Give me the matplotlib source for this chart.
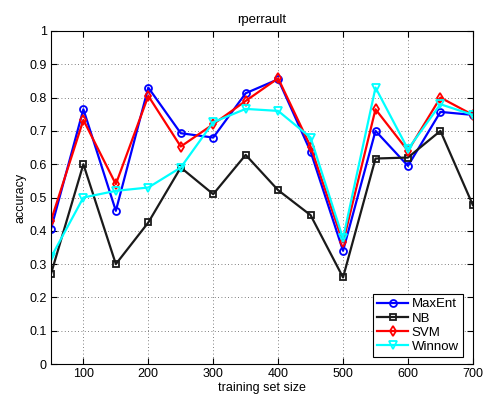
import matplotlib
matplotlib.use("Agg")
import matplotlib.pyplot as plt

plt.rcParams["font.family"] = ["Liberation Sans", "DejaVu Sans"]

sizes = [50, 100, 150, 200, 250, 300, 350, 400, 450, 500, 550, 600, 650, 700]
maxent = [0.405, 0.765, 0.46, 0.83, 0.693, 0.68, 0.813, 0.855, 0.638, 0.34, 0.70, 0.595, 0.757, 0.748]
nb = [0.27, 0.60, 0.30, 0.425, 0.59, 0.51, 0.628, 0.522, 0.447, 0.26, 0.617, 0.62, 0.70, 0.477]
svm = [0.43, 0.733, 0.54, 0.805, 0.653, 0.72, 0.79, 0.858, 0.653, 0.365, 0.765, 0.64, 0.80, 0.748]
winnow = [0.32, 0.50, 0.52, 0.53, 0.59, 0.726, 0.766, 0.76, 0.68, 0.377, 0.83, 0.645, 0.78, 0.748]

fig = plt.figure(figsize=(4.85, 3.97), dpi=100)
ax = fig.add_axes([0.105, 0.083, 0.87, 0.839])

ax.plot(sizes, maxent, "-o", color="#0000ff", lw=1.6, ms=5, mfc="none", mew=1.3, label="MaxEnt")
ax.plot(sizes, nb, "-s", color="#1a1a1a", lw=1.6, ms=4, mfc="none", mew=1.3, label="NB")
ax.plot(sizes, svm, "-d", color="#ff0000", lw=1.6, ms=5, mfc="none", mew=1.3, label="SVM")
ax.plot(sizes, winnow, "-v", color="#00ffff", lw=1.6, ms=6, mfc="none", mew=1.3, label="Winnow")

ax.set_xlim(50, 700)
ax.set_ylim(0, 1)
ax.set_xticks(range(100, 701, 100))
ax.set_yticks([i / 10 for i in range(11)])
ax.set_yticklabels(["0", "0.1", "0.2", "0.3", "0.4", "0.5", "0.6", "0.7", "0.8", "0.9", "1"])
ax.tick_params(direction="in", top=True, right=True, labelsize=9, length=4, pad=3)
ax.grid(True, linestyle=(0, (1, 3)), color="#555555", linewidth=0.6)
for s in ax.spines.values():
    s.set_linewidth(0.8)

ax.set_xlabel("training set size", fontsize=9, labelpad=1)
ax.set_ylabel("accuracy", fontsize=9, labelpad=2)
ax.set_title("rperrault", fontsize=9.5, pad=6)

leg = ax.legend(loc="lower right", bbox_to_anchor=(0.976, 0.021), borderaxespad=0,
                fontsize=9.5, fancybox=False, framealpha=1, edgecolor="black",
                handlelength=2.3, handletextpad=0.3, labelspacing=0.15, borderpad=0.3)
leg.get_frame().set_linewidth(0.8)

fig.savefig("out.png", dpi=100)
